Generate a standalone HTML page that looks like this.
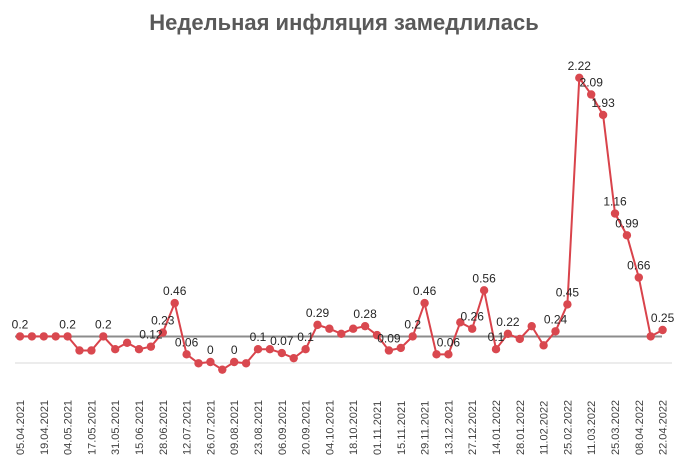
<!DOCTYPE html>
<html><head><meta charset="utf-8"><style>
body{margin:0;background:#fff;width:689px;height:470px;overflow:hidden;font-family:"Liberation Sans",sans-serif}
</style></head><body>
<svg width="689" height="470" xmlns="http://www.w3.org/2000/svg">
<text x="344" y="30" text-anchor="middle" font-size="22" font-weight="bold" fill="#595959" font-family="Liberation Sans, sans-serif">Недельная инфляция замедлилась</text>
<line x1="15" x2="672" y1="363" y2="363" stroke="#d9d9d9" stroke-width="1"/>
<line x1="15" x2="662" y1="336.5" y2="336.5" stroke="#8c8c8c" stroke-width="2"/>
<g id="plot"></g>
</svg>
<script>
const dates=["05.04.2021","19.04.2021","04.05.2021","17.05.2021","31.05.2021","15.06.2021","28.06.2021","12.07.2021","26.07.2021","09.08.2021","23.08.2021","06.09.2021","20.09.2021","04.10.2021","18.10.2021","01.11.2021","15.11.2021","29.11.2021","13.12.2021","27.12.2021","14.01.2022","28.01.2022","11.02.2022","25.02.2022","11.03.2022","25.03.2022","08.04.2022","22.04.2022"];
const values=[0.2,0.2,0.2,0.2,0.2,0.09,0.09,0.2,0.1,0.15,0.1,0.12,0.23,0.46,0.06,-0.01,0,-0.06,0,-0.01,0.1,0.1,0.07,0.03,0.1,0.29,0.26,0.22,0.26,0.28,0.21,0.09,0.11,0.2,0.46,0.06,0.06,0.31,0.26,0.56,0.1,0.22,0.18,0.28,0.13,0.24,0.45,2.22,2.09,1.93,1.16,0.99,0.66,0.2,0.25];
const labeled=[0,4,7,11,12,13,14,16,18,20,22,24,25,29,31,33,34,36,38,39,40,41,45,46,47,48,49,50,51,52,54];
const NS="http://www.w3.org/2000/svg";
const g=document.getElementById('plot');
const xs=i=>20+i*11.9;
const ys=v=>362-v*128;
let d=values.map((v,i)=>(i?'L':'M')+xs(i)+' '+ys(v)).join(' ');
const path=document.createElementNS(NS,'path');
path.setAttribute('d',d);path.setAttribute('fill','none');path.setAttribute('stroke','#d9434b');path.setAttribute('stroke-width','2');


g.appendChild(path);
values.forEach((v,i)=>{
 const c=document.createElementNS(NS,'circle');
 c.setAttribute('cx',xs(i));c.setAttribute('cy',ys(v));c.setAttribute('r','4.2');c.setAttribute('fill','#d9484f');
 
 
 g.appendChild(c);
});
labeled.forEach(i=>{
 const t=document.createElementNS(NS,'text');
 t.setAttribute('x',xs(i));t.setAttribute('y',ys(values[i])-8);t.setAttribute('text-anchor','middle');
 t.setAttribute('font-size','12');t.setAttribute('fill','#262626');
 t.textContent=String(values[i]);
 
 
 g.appendChild(t);
});
dates.forEach((s,k)=>{
 const x=xs(k*2)+4;
 const t=document.createElementNS(NS,'text');
 t.setAttribute('transform','translate('+x+',455) rotate(-90)');
 t.setAttribute('font-size','11');t.setAttribute('fill','#404040');
 t.textContent=s;
 
 
 g.appendChild(t);
});
</script>
</body></html>
